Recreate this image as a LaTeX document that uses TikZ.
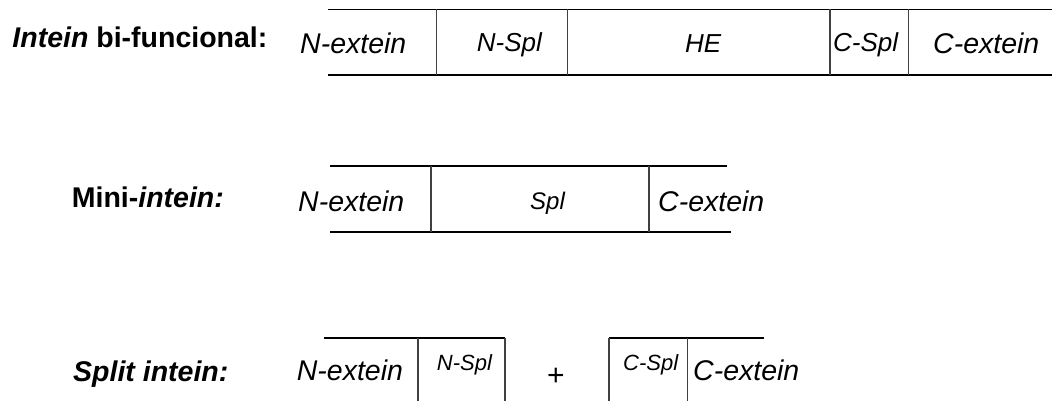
\documentclass[tikz,border=0pt]{standalone}
\usepackage{fontspec}
\setmainfont{Liberation Sans}
\begin{document}
\begin{tikzpicture}[x=1pt,y=-1pt,
  hline/.style={draw=black,line width=1.8pt},
  vline/.style={draw=black!75,line width=1.2pt},
  rowlabel/.style={anchor=base west,inner sep=0pt,font=\fontsize{28.5}{30}\selectfont\bfseries},
  ext/.style={anchor=base west,inner sep=0pt,font=\fontsize{28.5}{30}\selectfont\itshape},
  dom/.style={anchor=base west,inner sep=0pt,font=\fontsize{26}{28}\selectfont\itshape},
  domsmall/.style={anchor=base west,inner sep=0pt,font=\fontsize{22}{24}\selectfont\itshape}]
\useasboundingbox (0,0) rectangle (1052,401);
\clip (0,0) rectangle (1052,401);

% --- bifunctional intein: N-extein | N-Spl | HE | C-Spl | C-extein
\draw[hline] (328,9.5) -- (1052,9.5);
\draw[hline] (328,75) -- (1052,75);
\foreach \xv in {436.7,567.7,830,908.3}
  \draw[vline] (\xv,9.5) -- (\xv,75);
\node[rowlabel] (lab1) at (12.3,47.5) {\textit{Intein} bi-funcional:};
\node[ext] (ne1) at (300,54) {N-extein};
\node[dom] (ns1) at (476.7,51.7) {N-Spl};
\node[dom] (he1) at (685,52.3) {HE};
\node[dom] (cs1) at (833,51.7) {C-Spl};
\node[ext] (ce1) at (933,54) {C-extein};

% --- mini-intein: N-extein | Spl | C-extein
\draw[hline] (330,166) -- (727,166);
\draw[hline] (330,232) -- (731,232);
\foreach \xv in {431,649}
  \draw[vline] (\xv,166) -- (\xv,232);
\node[rowlabel] (lab2) at (71.7,207) {Mini-\textit{intein:}};
\node[ext] (ne2) at (298,211) {N-extein};
\node[anchor=base west,inner sep=0pt,font=\fontsize{24}{26}\selectfont\itshape] (sp2) at (530,209) {Spl};
\node[ext] (ce2) at (658,211) {C-extein};

% --- split intein: N-extein | N-Spl  +  C-Spl | C-extein
\draw[hline] (324,338.3) -- (505,338.3);
\draw[hline] (609,338.3) -- (764,338.3);
\foreach \xv in {418,505,609,687.3}
  \draw[vline] (\xv,338.3) -- (\xv,402);
\node[rowlabel] (lab3) at (73,381.7) {\textit{Split intein:}};
\node[ext] (ne3) at (296.7,380) {N-extein};
\node[domsmall] (ns3) at (436.7,370) {N-Spl};
\node[inner sep=0pt,font=\fontsize{30}{32}\selectfont] (plus) at (556,376.7) {+};
\node[domsmall] (cs3) at (623,370) {C-Spl};
\node[ext] (ce3) at (693,380) {C-extein};
\end{tikzpicture}
\end{document}
